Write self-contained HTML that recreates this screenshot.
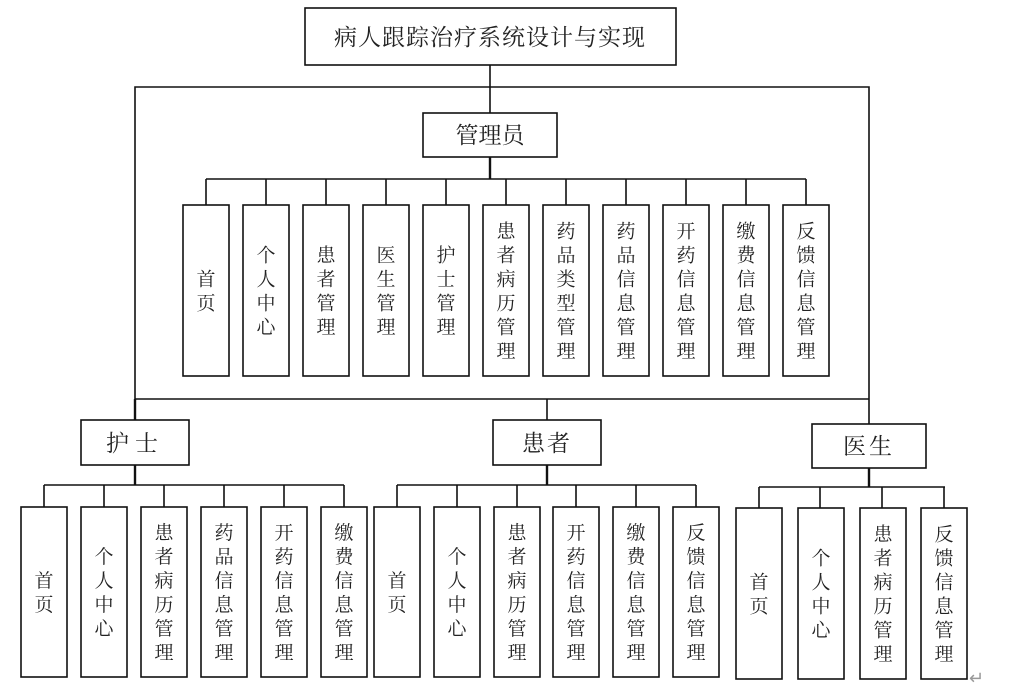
<!DOCTYPE html>
<html><head><meta charset="utf-8"><style>
html,body{margin:0;padding:0;background:#fff;width:1023px;height:693px;overflow:hidden}
svg text{font-family:"Liberation Serif","Noto Serif CJK SC",serif;fill:#222}
</style></head><body>
<svg width="1023" height="693" viewBox="0 0 1023 693" xmlns="http://www.w3.org/2000/svg">
<g stroke="#111" stroke-width="1.6" fill="none">
<!-- title -->
<rect x="305" y="8" width="371" height="57"/>
<line x1="490" y1="65" x2="490" y2="113"/>
<polyline points="135,399 135,87 869,87 869,424"/>
<line x1="135" y1="399" x2="869" y2="399"/>
<!-- admin -->
<rect x="423" y="113" width="134" height="44"/>
<line x1="490" y1="157" x2="490" y2="179" stroke-width="2.4"/>
<line x1="206" y1="179" x2="806" y2="179"/>
<path d="M206 179V205M266 179V205M326 179V205M386 179V205M446 179V205M506 179V205M566 179V205M626 179V205M686 179V205M746 179V205M806 179V205"/>
<rect x="183" y="205" width="46" height="171"/><rect x="243" y="205" width="46" height="171"/><rect x="303" y="205" width="46" height="171"/><rect x="363" y="205" width="46" height="171"/><rect x="423" y="205" width="46" height="171"/><rect x="483" y="205" width="46" height="171"/><rect x="543" y="205" width="46" height="171"/><rect x="603" y="205" width="46" height="171"/><rect x="663" y="205" width="46" height="171"/><rect x="723" y="205" width="46" height="171"/><rect x="783" y="205" width="46" height="171"/>
<!-- nurse -->
<line x1="135" y1="399" x2="135" y2="420" stroke-width="2.4"/>
<rect x="81" y="420" width="108" height="45"/>
<line x1="135" y1="465" x2="135" y2="485" stroke-width="2.4"/>
<line x1="44" y1="485" x2="344" y2="485"/>
<path d="M44 485V507M104 485V507M164 485V507M224 485V507M284 485V507M344 485V507"/>
<rect x="21" y="507" width="46" height="170"/><rect x="81" y="507" width="46" height="170"/><rect x="141" y="507" width="46" height="170"/><rect x="201" y="507" width="46" height="170"/><rect x="261" y="507" width="46" height="170"/><rect x="321" y="507" width="46" height="170"/>
<!-- patient -->
<line x1="547" y1="399" x2="547" y2="420"/>
<rect x="493" y="420" width="108" height="45"/>
<line x1="547" y1="465" x2="547" y2="485" stroke-width="2.4"/>
<line x1="397" y1="485" x2="696" y2="485"/>
<path d="M397 485V507M457 485V507M517 485V507M576 485V507M636 485V507M696 485V507"/>
<rect x="374" y="507" width="46" height="170"/><rect x="434" y="507" width="46" height="170"/><rect x="494" y="507" width="46" height="170"/><rect x="553" y="507" width="46" height="170"/><rect x="613" y="507" width="46" height="170"/><rect x="673" y="507" width="46" height="170"/>
<!-- doctor -->
<rect x="812" y="424" width="114" height="44"/>
<line x1="869" y1="468" x2="869" y2="487" stroke-width="2.4"/>
<line x1="759" y1="487" x2="945" y2="487"/>
<path d="M759 487V508M820 487V508M882 487V508M944 487V508"/>
<rect x="736" y="508" width="46" height="171"/><rect x="798" y="508" width="46" height="171"/><rect x="860" y="508" width="46" height="171"/><rect x="921" y="508" width="46" height="171"/>
</g>
<g font-size="23" text-anchor="middle">
<text x="490" y="45" letter-spacing="1">病人跟踪治疗系统设计与实现</text>
<text x="490" y="143">管理员</text>
<text x="135" y="451" letter-spacing="6">护士</text>
<text x="547" y="451" letter-spacing="2">患者</text>
<text x="869" y="454" letter-spacing="3">医生</text>
</g>
<g font-size="19" text-anchor="middle">
<!-- admin leaves -->
<text y="285.5"><tspan x="206">首</tspan><tspan x="206" dy="24">页</tspan></text>
<text y="261.5"><tspan x="266">个</tspan><tspan x="266" dy="24">人</tspan><tspan x="266" dy="24">中</tspan><tspan x="266" dy="24">心</tspan></text>
<text y="261.5"><tspan x="326">患</tspan><tspan x="326" dy="24">者</tspan><tspan x="326" dy="24">管</tspan><tspan x="326" dy="24">理</tspan></text>
<text y="261.5"><tspan x="386">医</tspan><tspan x="386" dy="24">生</tspan><tspan x="386" dy="24">管</tspan><tspan x="386" dy="24">理</tspan></text>
<text y="261.5"><tspan x="446">护</tspan><tspan x="446" dy="24">士</tspan><tspan x="446" dy="24">管</tspan><tspan x="446" dy="24">理</tspan></text>
<text y="237.5"><tspan x="506">患</tspan><tspan x="506" dy="24">者</tspan><tspan x="506" dy="24">病</tspan><tspan x="506" dy="24">历</tspan><tspan x="506" dy="24">管</tspan><tspan x="506" dy="24">理</tspan></text>
<text y="237.5"><tspan x="566">药</tspan><tspan x="566" dy="24">品</tspan><tspan x="566" dy="24">类</tspan><tspan x="566" dy="24">型</tspan><tspan x="566" dy="24">管</tspan><tspan x="566" dy="24">理</tspan></text>
<text y="237.5"><tspan x="626">药</tspan><tspan x="626" dy="24">品</tspan><tspan x="626" dy="24">信</tspan><tspan x="626" dy="24">息</tspan><tspan x="626" dy="24">管</tspan><tspan x="626" dy="24">理</tspan></text>
<text y="237.5"><tspan x="686">开</tspan><tspan x="686" dy="24">药</tspan><tspan x="686" dy="24">信</tspan><tspan x="686" dy="24">息</tspan><tspan x="686" dy="24">管</tspan><tspan x="686" dy="24">理</tspan></text>
<text y="237.5"><tspan x="746">缴</tspan><tspan x="746" dy="24">费</tspan><tspan x="746" dy="24">信</tspan><tspan x="746" dy="24">息</tspan><tspan x="746" dy="24">管</tspan><tspan x="746" dy="24">理</tspan></text>
<text y="237.5"><tspan x="806">反</tspan><tspan x="806" dy="24">馈</tspan><tspan x="806" dy="24">信</tspan><tspan x="806" dy="24">息</tspan><tspan x="806" dy="24">管</tspan><tspan x="806" dy="24">理</tspan></text>
<!-- nurse leaves -->
<text y="587"><tspan x="44">首</tspan><tspan x="44" dy="24">页</tspan></text>
<text y="563"><tspan x="104">个</tspan><tspan x="104" dy="24">人</tspan><tspan x="104" dy="24">中</tspan><tspan x="104" dy="24">心</tspan></text>
<text y="539"><tspan x="164">患</tspan><tspan x="164" dy="24">者</tspan><tspan x="164" dy="24">病</tspan><tspan x="164" dy="24">历</tspan><tspan x="164" dy="24">管</tspan><tspan x="164" dy="24">理</tspan></text>
<text y="539"><tspan x="224">药</tspan><tspan x="224" dy="24">品</tspan><tspan x="224" dy="24">信</tspan><tspan x="224" dy="24">息</tspan><tspan x="224" dy="24">管</tspan><tspan x="224" dy="24">理</tspan></text>
<text y="539"><tspan x="284">开</tspan><tspan x="284" dy="24">药</tspan><tspan x="284" dy="24">信</tspan><tspan x="284" dy="24">息</tspan><tspan x="284" dy="24">管</tspan><tspan x="284" dy="24">理</tspan></text>
<text y="539"><tspan x="344">缴</tspan><tspan x="344" dy="24">费</tspan><tspan x="344" dy="24">信</tspan><tspan x="344" dy="24">息</tspan><tspan x="344" dy="24">管</tspan><tspan x="344" dy="24">理</tspan></text>
<!-- patient leaves -->
<text y="587"><tspan x="397">首</tspan><tspan x="397" dy="24">页</tspan></text>
<text y="563"><tspan x="457">个</tspan><tspan x="457" dy="24">人</tspan><tspan x="457" dy="24">中</tspan><tspan x="457" dy="24">心</tspan></text>
<text y="539"><tspan x="517">患</tspan><tspan x="517" dy="24">者</tspan><tspan x="517" dy="24">病</tspan><tspan x="517" dy="24">历</tspan><tspan x="517" dy="24">管</tspan><tspan x="517" dy="24">理</tspan></text>
<text y="539"><tspan x="576">开</tspan><tspan x="576" dy="24">药</tspan><tspan x="576" dy="24">信</tspan><tspan x="576" dy="24">息</tspan><tspan x="576" dy="24">管</tspan><tspan x="576" dy="24">理</tspan></text>
<text y="539"><tspan x="636">缴</tspan><tspan x="636" dy="24">费</tspan><tspan x="636" dy="24">信</tspan><tspan x="636" dy="24">息</tspan><tspan x="636" dy="24">管</tspan><tspan x="636" dy="24">理</tspan></text>
<text y="539"><tspan x="696">反</tspan><tspan x="696" dy="24">馈</tspan><tspan x="696" dy="24">信</tspan><tspan x="696" dy="24">息</tspan><tspan x="696" dy="24">管</tspan><tspan x="696" dy="24">理</tspan></text>
<!-- doctor leaves -->
<text y="588.5"><tspan x="759">首</tspan><tspan x="759" dy="24">页</tspan></text>
<text y="564.5"><tspan x="821">个</tspan><tspan x="821" dy="24">人</tspan><tspan x="821" dy="24">中</tspan><tspan x="821" dy="24">心</tspan></text>
<text y="540.5"><tspan x="883">患</tspan><tspan x="883" dy="24">者</tspan><tspan x="883" dy="24">病</tspan><tspan x="883" dy="24">历</tspan><tspan x="883" dy="24">管</tspan><tspan x="883" dy="24">理</tspan></text>
<text y="540.5"><tspan x="944">反</tspan><tspan x="944" dy="24">馈</tspan><tspan x="944" dy="24">信</tspan><tspan x="944" dy="24">息</tspan><tspan x="944" dy="24">管</tspan><tspan x="944" dy="24">理</tspan></text>
</g>
<text x="969" y="684" font-size="18" style="fill:#999">↵</text>
</svg>
</body></html>
